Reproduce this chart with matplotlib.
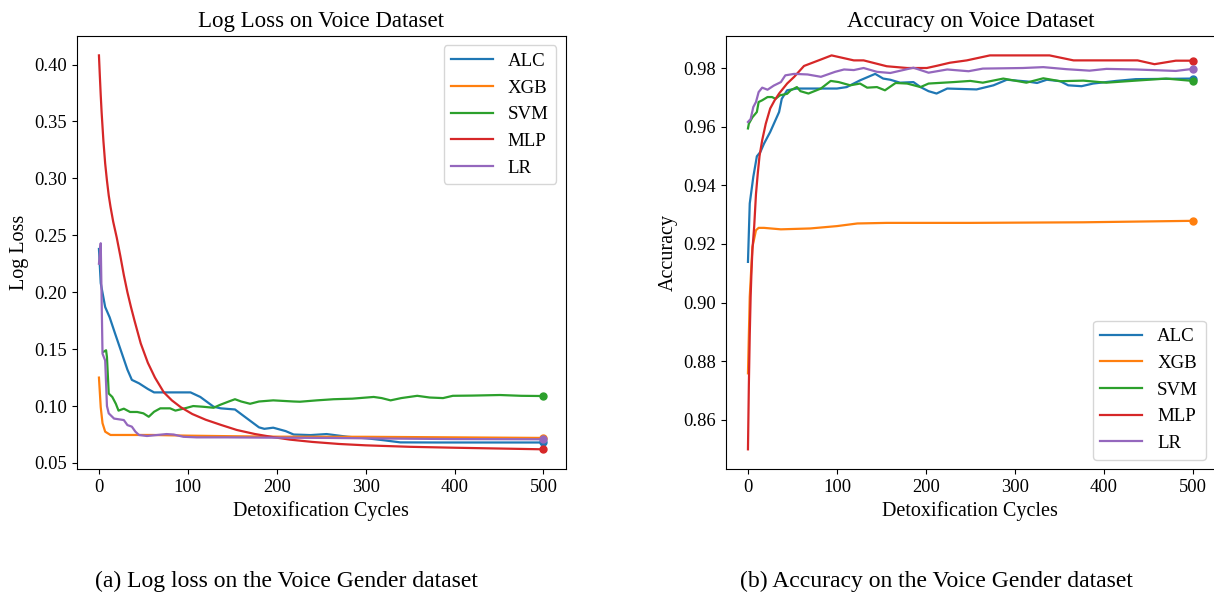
import matplotlib
matplotlib.use("Agg")
import matplotlib.pyplot as plt

plt.rcParams['font.family'] = ['Liberation Serif', 'DejaVu Serif']

labels = ["ALC", "XGB", "SVM", "MLP", "LR"]
colors = ["#1f77b4", "#ff7f0e", "#2ca02c", "#d62728", "#9467bd"]

# ---------- Log loss (left) ----------
loss_alc_x = [0, 2, 7, 12, 18, 25, 32, 37, 45, 55, 62, 80, 103, 114, 129, 137, 153, 165, 180, 186, 196, 210, 219, 238, 256, 280, 301, 320, 339, 380, 414, 460, 500]
loss_alc_y = [0.238, 0.208, 0.187, 0.178, 0.164, 0.148, 0.132, 0.123, 0.120, 0.115, 0.112, 0.112, 0.112, 0.108, 0.0994, 0.098, 0.097, 0.090, 0.0813, 0.080, 0.081, 0.078, 0.075, 0.0745, 0.0754, 0.073, 0.0717, 0.070, 0.0681, 0.068, 0.068, 0.068, 0.068]

loss_xgb_x = [0, 2, 4, 7, 13, 30, 60, 100, 150, 200, 300, 400, 500]
loss_xgb_y = [0.125, 0.099, 0.085, 0.0775, 0.0746, 0.0746, 0.0746, 0.074, 0.0735, 0.0731, 0.073, 0.0725, 0.072]

loss_svm_x = [5, 8, 9, 11, 15, 19, 22, 28, 35, 43, 50, 56, 62, 69, 80, 86, 99, 106, 117, 129, 136, 146, 153, 160, 170, 180, 196, 219, 226, 245, 264, 285, 309, 318, 328, 340, 358, 372, 387, 398, 420, 451, 475, 500]
loss_svm_y = [0.1476, 0.149, 0.143, 0.111, 0.108, 0.102, 0.096, 0.0977, 0.0948, 0.0948, 0.0936, 0.0906, 0.095, 0.098, 0.098, 0.096, 0.0985, 0.100, 0.0994, 0.0985, 0.101, 0.104, 0.106, 0.104, 0.102, 0.104, 0.105, 0.104, 0.1038, 0.105, 0.106, 0.1065, 0.108, 0.107, 0.105, 0.107, 0.109, 0.1075, 0.107, 0.109, 0.1092, 0.1097, 0.109, 0.1088]

loss_mlp_x = [0, 1, 2, 3, 5, 7, 9, 11, 13, 16, 20, 24, 28, 32, 36, 40, 47, 55, 63, 73, 82, 92, 105, 120, 137, 155, 175, 196, 215, 240, 270, 300, 350, 400, 450, 500]
loss_mlp_y = [0.408, 0.390, 0.373, 0.358, 0.333, 0.313, 0.298, 0.285, 0.275, 0.262, 0.248, 0.232, 0.215, 0.200, 0.187, 0.175, 0.155, 0.138, 0.125, 0.112, 0.105, 0.099, 0.093, 0.088, 0.0835, 0.079, 0.0755, 0.0727, 0.0705, 0.0685, 0.0667, 0.0655, 0.0642, 0.0634, 0.0627, 0.062]

loss_lr_x = [0, 2, 4, 7, 9, 11, 17, 28, 32, 37, 41, 45, 54, 76, 84, 95, 110, 143, 200, 260, 320, 400, 500]
loss_lr_y = [0.225, 0.243, 0.146, 0.140, 0.100, 0.0936, 0.089, 0.0877, 0.0833, 0.0819, 0.0775, 0.0746, 0.0737, 0.0754, 0.075, 0.073, 0.0725, 0.0725, 0.0722, 0.072, 0.0715, 0.071, 0.0708]

# ---------- Accuracy (right) ----------
acc_alc_x = [0, 2, 6, 10, 14, 18, 25, 35, 38, 44, 55, 100, 111, 126, 143, 152, 160, 171, 186, 194, 203, 212, 224, 257, 276, 291, 314, 325, 336, 351, 360, 375, 388, 414, 436, 500]
acc_alc_y = [0.9139, 0.9338, 0.9429, 0.9499, 0.9514, 0.9542, 0.9582, 0.965, 0.9695, 0.9724, 0.973, 0.973, 0.9735, 0.9758, 0.978, 0.9764, 0.976, 0.975, 0.9752, 0.9735, 0.9721, 0.9713, 0.973, 0.9727, 0.9741, 0.976, 0.9754, 0.9749, 0.976, 0.9755, 0.9741, 0.9738, 0.9747, 0.9756, 0.9762, 0.9764]

acc_xgb_x = [0, 2, 5, 9, 12, 18, 37, 70, 100, 123, 156, 250, 377, 500]
acc_xgb_y = [0.8759, 0.902, 0.919, 0.9247, 0.9255, 0.9255, 0.925, 0.9253, 0.9261, 0.927, 0.9272, 0.9272, 0.9274, 0.9279]

acc_svm_x = [0, 1, 5, 10, 12, 16, 22, 27, 31, 36, 44, 48, 55, 59, 68, 82, 93, 102, 115, 126, 134, 145, 154, 166, 179, 194, 203, 231, 250, 264, 287, 313, 332, 351, 377, 403, 436, 470, 500]
acc_svm_y = [0.9594, 0.961, 0.9632, 0.965, 0.9684, 0.969, 0.9701, 0.9701, 0.9695, 0.9707, 0.9712, 0.9724, 0.9735, 0.9721, 0.9713, 0.973, 0.9756, 0.9752, 0.9741, 0.9747, 0.9733, 0.9735, 0.9724, 0.9749, 0.9747, 0.9735, 0.9747, 0.9752, 0.9756, 0.975, 0.9764, 0.975, 0.9765, 0.9755, 0.9757, 0.975, 0.9757, 0.9764, 0.9756]

acc_mlp_x = [0, 1, 2, 3, 4, 5, 7, 9, 11, 13, 16, 20, 25, 30, 35, 44, 52, 63, 82, 94, 119, 130, 156, 179, 201, 213, 227, 246, 272, 339, 366, 438, 457, 481, 500]
acc_mlp_y = [0.850, 0.872, 0.889, 0.902, 0.911, 0.918, 0.926, 0.937, 0.944, 0.950, 0.9554, 0.961, 0.9662, 0.969, 0.9713, 0.9747, 0.977, 0.9807, 0.9829, 0.9843, 0.9826, 0.9826, 0.9806, 0.980, 0.980, 0.9808, 0.9818, 0.9826, 0.9843, 0.9843, 0.9826, 0.9826, 0.9813, 0.9825, 0.9825]

acc_lr_x = [0, 3, 6, 9, 12, 16, 22, 29, 37, 42, 52, 67, 82, 98, 108, 119, 130, 145, 160, 186, 203, 224, 248, 264, 309, 332, 358, 384, 403, 436, 481, 500]
acc_lr_y = [0.9616, 0.9626, 0.9667, 0.9684, 0.9718, 0.9733, 0.9726, 0.974, 0.9752, 0.9775, 0.978, 0.9778, 0.977, 0.9787, 0.9795, 0.9793, 0.980, 0.9787, 0.9783, 0.9801, 0.9784, 0.9795, 0.9789, 0.9798, 0.980, 0.9803, 0.9796, 0.9791, 0.9797, 0.9795, 0.979, 0.9797]

loss_series = [(loss_alc_x, loss_alc_y), (loss_xgb_x, loss_xgb_y), (loss_svm_x, loss_svm_y),
               (loss_mlp_x, loss_mlp_y), (loss_lr_x, loss_lr_y)]
acc_series = [(acc_alc_x, acc_alc_y), (acc_xgb_x, acc_xgb_y), (acc_svm_x, acc_svm_y),
              (acc_mlp_x, acc_mlp_y), (acc_lr_x, acc_lr_y)]

fig = plt.figure(figsize=(12.14, 5.99), dpi=100)
ax1 = fig.add_axes([0.0632, 0.217, 0.4028, 0.7234])
ax2 = fig.add_axes([0.5978, 0.217, 0.4030, 0.7234])

FS = 13.3
for ax, series, title, ylabel, loc in [
        (ax1, loss_series, "Log Loss on Voice Dataset", "Log Loss", "upper right"),
        (ax2, acc_series, "Accuracy on Voice Dataset", "Accuracy", "lower right")]:
    for (xs, ys), lab, c in zip(series, labels, colors):
        ax.plot(xs, ys, color=c, lw=1.6, label=lab)
        ax.plot(xs[-1], ys[-1], 'o', color=c, ms=5)
    ax.set_title(title, fontsize=16.5, pad=6)
    ax.set_xlabel("Detoxification Cycles", fontsize=14.5, labelpad=4)
    ax.set_ylabel(ylabel, fontsize=14.5)
    ax.tick_params(labelsize=FS)
    ax.set_xticks([0, 100, 200, 300, 400, 500])
    ax.legend(loc=loc, fontsize=13.6, handlelength=2.2, handletextpad=0.8)

ax1.set_yticks([0.05, 0.10, 0.15, 0.20, 0.25, 0.30, 0.35, 0.40])
ax1.set_yticklabels(["0.05", "0.10", "0.15", "0.20", "0.25", "0.30", "0.35", "0.40"])
ax2.set_yticks([0.86, 0.88, 0.90, 0.92, 0.94, 0.96, 0.98])
ax2.set_yticklabels(["0.86", "0.88", "0.90", "0.92", "0.94", "0.96", "0.98"])

fig.text(0.2362, 0.030, "(a) Log loss on the Voice Gender dataset", fontsize=17, ha='center', va='center')
fig.text(0.771, 0.030, "(b) Accuracy on the Voice Gender dataset", fontsize=17, ha='center', va='center')

fig.savefig("out.png", dpi=100)
